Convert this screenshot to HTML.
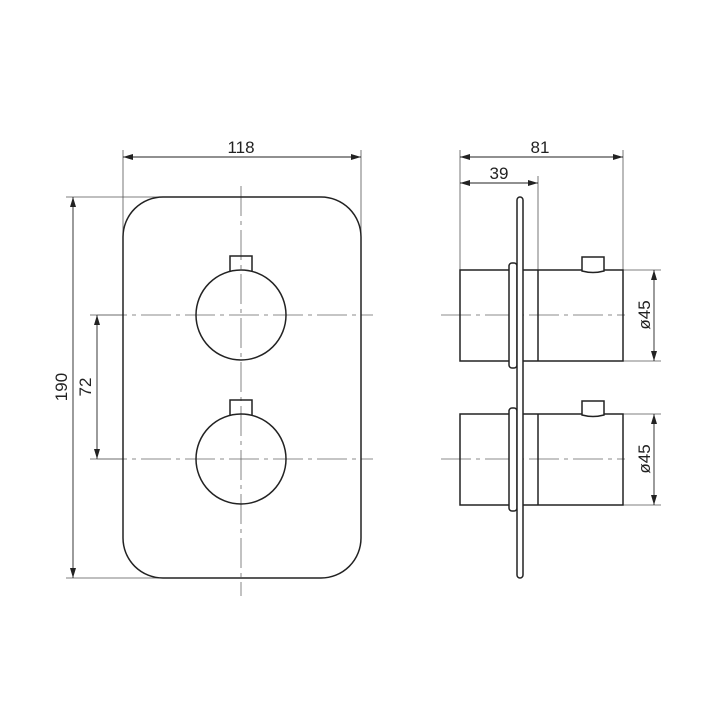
<!DOCTYPE html>
<html><head><meta charset="utf-8"><style>html,body{margin:0;padding:0;background:#fff}svg{display:block}</style></head>
<body>
<svg width="727" height="727" viewBox="0 0 727 727" xmlns="http://www.w3.org/2000/svg">
<defs>
<marker id="a" viewBox="0 0 10 6" refX="10" refY="3" markerWidth="10" markerHeight="6" markerUnits="userSpaceOnUse" orient="auto-start-reverse"><path d="M0,0 L10,3 L0,6 z" fill="#222"/></marker>
</defs>
<g font-family="Liberation Sans Narrow, Liberation Sans, sans-serif" font-size="17" fill="#222">
<text x="241" y="153" text-anchor="middle">118</text>
<text x="540" y="153" text-anchor="middle">81</text>
<text x="499" y="179" text-anchor="middle">39</text>
<text transform="translate(67,387) rotate(-90)" text-anchor="middle">190</text>
<text transform="translate(91,387) rotate(-90)" text-anchor="middle">72</text>
<text transform="translate(650,315) rotate(-90)" text-anchor="middle">ø45</text>
<text transform="translate(650,459) rotate(-90)" text-anchor="middle">ø45</text>
</g>
<g stroke="#555" stroke-width="0.8" fill="none">
<line x1="123" y1="150" x2="123" y2="250"/>
<line x1="361" y1="150" x2="361" y2="250"/>
<line x1="66" y1="197" x2="160" y2="197"/>
<line x1="66" y1="578" x2="160" y2="578"/>
<line x1="90" y1="315" x2="123" y2="315"/>
<line x1="90" y1="459" x2="123" y2="459"/>
<line x1="460" y1="150" x2="460" y2="270"/>
<line x1="623" y1="150" x2="623" y2="270"/>
<line x1="538" y1="176" x2="538" y2="270"/>
<line x1="623" y1="270" x2="661" y2="270"/>
<line x1="623" y1="361" x2="661" y2="361"/>
<line x1="623" y1="414" x2="661" y2="414"/>
<line x1="623" y1="505" x2="661" y2="505"/>
</g>
<g stroke="#222" stroke-width="0.9" fill="none" marker-start="url(#a)" marker-end="url(#a)">
<line x1="123" y1="157" x2="361" y2="157"/>
<line x1="73" y1="197" x2="73" y2="578"/>
<line x1="97" y1="315" x2="97" y2="459"/>
<line x1="460" y1="157" x2="623" y2="157"/>
<line x1="460" y1="183" x2="538" y2="183"/>
<line x1="654" y1="270" x2="654" y2="361"/>
<line x1="654" y1="414" x2="654" y2="505"/>
</g>
<g stroke="#666" stroke-width="0.8" fill="none" stroke-dasharray="30,5,4,5">
<line x1="97" y1="315" x2="373" y2="315"/>
<line x1="97" y1="459" x2="373" y2="459"/>
<line x1="241" y1="186" x2="241" y2="596"/>
<line x1="441" y1="315" x2="625" y2="315"/>
<line x1="441" y1="459" x2="625" y2="459"/>
</g>
<g stroke="#222" stroke-width="1.5" fill="none">
<rect x="123" y="197" width="238" height="381" rx="40" ry="40"/>
<circle cx="241" cy="315" r="45"/>
<circle cx="241" cy="459" r="45"/>
<path d="M230,271 V256 H252 V271"/>
<path d="M230,415 V400 H252 V415"/>
</g>
<g stroke="#222" stroke-width="1.5" fill="none">
<rect x="460" y="270" width="163" height="91"/>
<line x1="538" y1="270" x2="538" y2="361"/>
<rect x="460" y="414" width="163" height="91"/>
<line x1="538" y1="414" x2="538" y2="505"/>
<rect x="509" y="263" width="8" height="105" rx="3" fill="#fff"/>
<rect x="509" y="408" width="8" height="103" rx="3" fill="#fff"/>
<rect x="517" y="197" width="6" height="381" rx="3" fill="#fff"/>
<path d="M582,271 V257 H604 V271 Q593,274 582,271 z" fill="#fff"/>
<path d="M582,415 V401 H604 V415 Q593,418 582,415 z" fill="#fff"/>
</g>
</svg>
</body></html>
